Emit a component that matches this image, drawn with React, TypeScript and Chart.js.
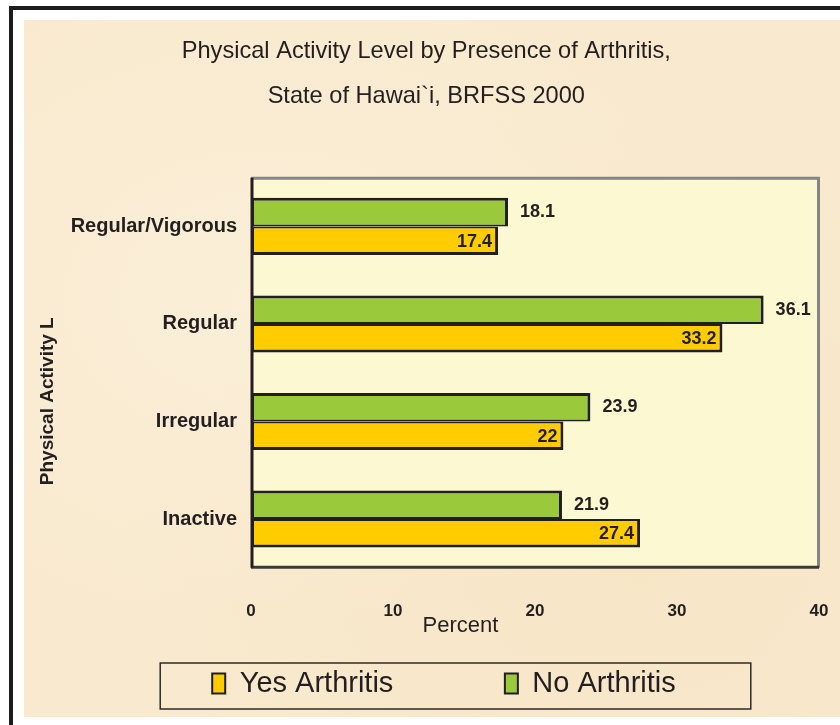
import React, { useEffect, useRef } from "react";
import { Chart, registerables } from "chart.js";

Chart.register(...registerables);

const categories = ["Regular/Vigorous", "Regular", "Irregular", "Inactive"];
const noArthritis = [18.1, 36.1, 23.9, 21.9];
const yesArthritis = [17.4, 33.2, 22, 27.4];
const seriesNames = ["No Arthritis", "Yes Arthritis"];
const titleLines = ["Physical Activity Level by Presence of Arthritis,\u2003\u2002", "State of Hawai`i, BRFSS 2000\u2003\u2002"];
const xTitle = "Percent";
const yTitle = "Physical Activity L\u2003\u2003\u2003";

const FONT = '"Liberation Sans", sans-serif';
const INK = "#231F20";

const plotFramePlugin = {
  id: "plotFrame",
  beforeDatasetsDraw(chart: any) {
    const { ctx, chartArea: a } = chart;
    ctx.save();
    ctx.fillStyle = "#FCF8D2";
    ctx.fillRect(a.left, a.top, a.right - a.left, a.bottom - a.top);
    ctx.lineWidth = 3;
    ctx.strokeStyle = "#858585";
    ctx.beginPath();
    ctx.moveTo(a.left, a.top + 0.5);
    ctx.lineTo(a.right - 0.5, a.top + 0.5);
    ctx.lineTo(a.right - 0.5, a.bottom);
    ctx.stroke();
    ctx.strokeStyle = "#3a3a3a";
    ctx.beginPath();
    ctx.moveTo(a.left, a.bottom - 0.5);
    ctx.lineTo(a.right, a.bottom - 0.5);
    ctx.stroke();
    ctx.strokeStyle = INK;
    ctx.beginPath();
    ctx.moveTo(a.left + 1, a.top);
    ctx.lineTo(a.left + 1, a.bottom);
    ctx.stroke();
    ctx.restore();
  },
  afterDraw(chart: any) {
    const { ctx } = chart;
    const xs = chart.scales.x;
    ctx.save();
    ctx.fillStyle = INK;
    ctx.font = `22px ${FONT}`;
    ctx.textAlign = "center";
    ctx.textBaseline = "middle";
    ctx.fillText(xTitle, xs.getPixelForValue(14.75), xs.top + 58);
    const lg = chart.legend;
    if (lg && lg.legendHitBoxes && lg.legendHitBoxes.length) {
      const hb = lg.legendHitBoxes;
      const first = hb[0];
      const last = hb[hb.length - 1];
      const l = first.left - 52;
      const r = last.left + last.width + 75;
      const t = first.top - 6;
      ctx.lineWidth = 1.5;
      ctx.strokeStyle = "#2b2b2b";
      ctx.strokeRect(l, t, r - l, 46);
    }
    ctx.restore();
  },
};

const valueLabelPlugin = {
  id: "valueLabels",
  afterDatasetsDraw(chart: any) {
    const { ctx } = chart;
    ctx.save();
    ctx.fillStyle = INK;
    ctx.font = `bold 18px ${FONT}`;
    ctx.textBaseline = "middle";
    chart.data.datasets.forEach((ds: any, di: number) => {
      const meta = chart.getDatasetMeta(di);
      meta.data.forEach((bar: any, i: number) => {
        const v = ds.data[i];
        if (di === 0) {
          ctx.textAlign = "left";
          ctx.fillText(String(v), bar.x + 12, bar.y);
        } else {
          ctx.textAlign = "right";
          ctx.fillText(String(v), bar.x - 6, bar.y + 1);
        }
      });
    });
    ctx.restore();
  },
};

export default function App() {
  const ref = useRef<HTMLCanvasElement>(null);

  useEffect(() => {
    if (!ref.current) return;
    const chart = new Chart(ref.current, {
      type: "bar",
      data: {
        labels: categories,
        datasets: [
          {
            label: seriesNames[0],
            data: noArthritis,
            backgroundColor: "#9ACA3C",
            borderColor: INK,
            borderWidth: { top: 3, right: 3, bottom: 2, left: 3 },
            borderSkipped: false,
            barPercentage: 1,
            categoryPercentage: 0.586,
          },
          {
            label: seriesNames[1],
            data: yesArthritis,
            backgroundColor: "#FFCC00",
            borderColor: INK,
            borderWidth: { top: 2, right: 3, bottom: 3, left: 3 },
            borderSkipped: false,
            barPercentage: 1,
            categoryPercentage: 0.586,
          },
        ],
      },
      options: {
        indexAxis: "y",
        animation: false,
        responsive: false,
        maintainAspectRatio: false,
        events: [],
        layout: { padding: { left: 45, right: 21, top: 0, bottom: 9 } },
        plugins: {
          tooltip: { enabled: false },
          title: {
            display: true,
            text: titleLines,
            color: INK,
            font: { family: FONT, size: 23.6, weight: "normal", lineHeight: 1.9 },
            padding: { top: 9, bottom: 59 },
          },
          legend: {
            display: true,
            position: "bottom",
            reverse: true,
            labels: {
              color: INK,
              font: { family: FONT, size: 29 },
              boxWidth: 13,
              boxHeight: 20,
              padding: 10,
              generateLabels(chart: any) {
                const items = Chart.defaults.plugins.legend.labels.generateLabels(chart);
                return items.map((it: any) => ({
                  ...it,
                  lineWidth: 2,
                  text: it.text === "Yes Arthritis" ? it.text + "\u2003\u2003\u2003\u2002" : it.text,
                }));
              },
            },
          },
        },
        scales: {
          x: {
            min: 0,
            max: 40,
            grid: { display: false, drawTicks: false },
            border: { display: false },
            ticks: {
              stepSize: 10,
              padding: 33,
              color: INK,
              font: { family: FONT, size: 17, weight: "bold" },
            },
            afterFit(scale: any) {
              scale.height = 91.2;
              scale.paddingLeft = 0;
              scale.paddingRight = 0;
            },
          },
          y: {
            grid: { display: false, drawTicks: false },
            border: { display: false },
            ticks: {
              padding: 14,
              color: INK,
              font: { family: FONT, size: 20, weight: "bold" },
            },
            title: {
              display: true,
              text: yTitle,
              color: INK,
              font: { family: FONT, size: 19, weight: "bold" },
              padding: { top: -32.4, bottom: 0 },
            },
            afterFit(scale: any) {
              scale.width = 182;
              scale.paddingTop = 0;
              scale.paddingBottom = 0;
            },
          },
        },
      },
      plugins: [plotFramePlugin, valueLabelPlugin],
    });
    return () => chart.destroy();
  }, []);

  return (
    <div style={{ position: "absolute", left: 0, top: 0, width: 840, height: 725, background: "#ffffff", overflow: "hidden" }}>
      <div style={{ position: "absolute", left: 9, top: 6, width: 831, height: 4, background: "#1e1c1c" }} />
      <div style={{ position: "absolute", left: 9, top: 6, width: 4, height: 719, background: "#1e1c1c" }} />
      <div
        style={{
          position: "absolute",
          left: 24,
          top: 20,
          width: 816,
          height: 697,
          background:
            "radial-gradient(ellipse at 30% 40%, #FBEFD8 0%, rgba(251,239,216,0) 55%), radial-gradient(ellipse at 75% 75%, #F7E5C6 0%, rgba(247,229,198,0) 60%), #F9EACF",
        }}
      >
        <canvas ref={ref} width={816} height={697} style={{ display: "block", width: 816, height: 697 }} />
      </div>
    </div>
  );
}
